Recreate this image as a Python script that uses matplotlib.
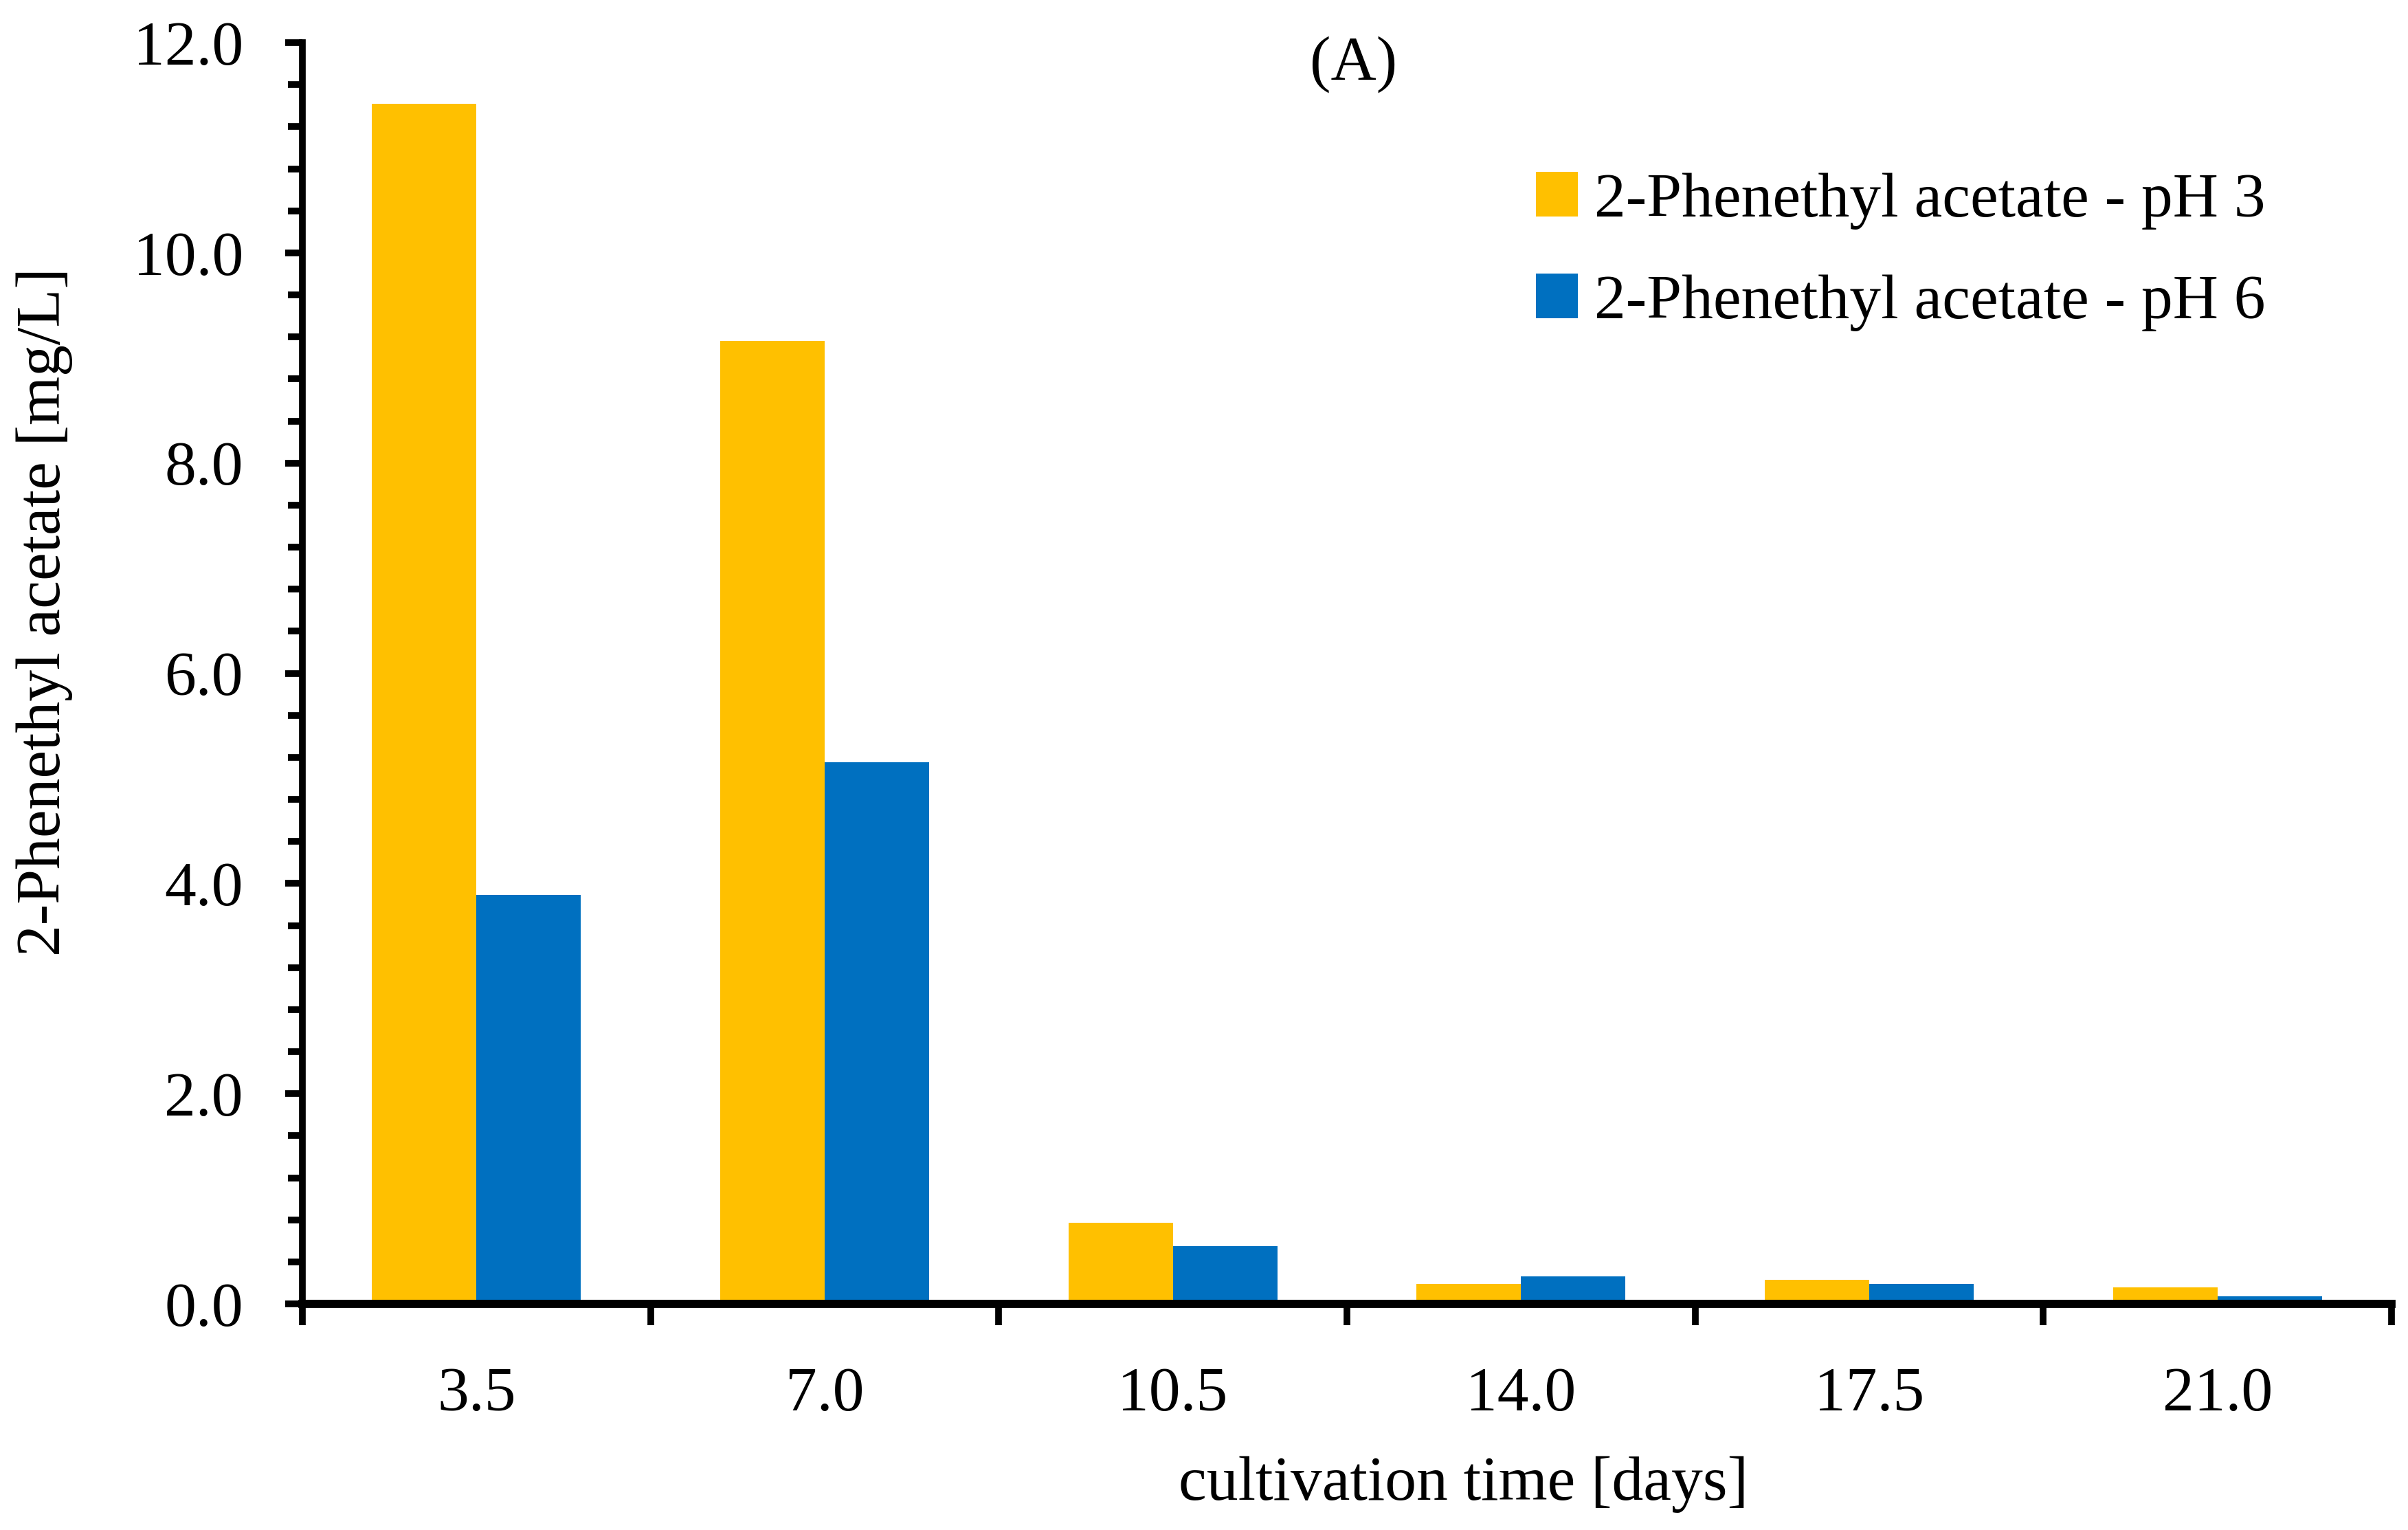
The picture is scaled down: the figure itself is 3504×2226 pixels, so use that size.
"""Bar chart: 2-phenethyl acetate over cultivation time at pH 3 and pH 6."""

import matplotlib

matplotlib.use("Agg")
import matplotlib.pyplot as plt
import numpy as np
from matplotlib.ticker import FixedLocator, FormatStrFormatter, MultipleLocator

# data
days = ["3.5", "7.0", "10.5", "14.0", "17.5", "21.0"]
ph3 = [11.42, 9.16, 0.77, 0.19, 0.23, 0.16]
ph6 = [3.89, 5.15, 0.55, 0.26, 0.19, 0.07]
series_labels = ["2-Phenethyl acetate - pH 3", "2-Phenethyl acetate - pH 6"]
colors = ["#FFC000", "#0070C0"]

W, H = 3505, 2226
DPI = 100
FS = 66


def main():
    plt.rcParams["font.family"] = ["Liberation Serif", "DejaVu Serif"]
    fig = plt.figure(figsize=(W / DPI, H / DPI), dpi=DPI)
    fig.patch.set_facecolor("white")

    # axes box in pixel coords of the reference
    x0, x1, y_top, y_base = 440, 3480, 62, 1897
    ax = fig.add_axes([x0 / W, 1 - y_base / H, (x1 - x0) / W, (y_base - y_top) / H])

    x = np.arange(len(days))
    bw = 0.3
    b1 = ax.bar(x - bw / 2, ph3, bw, color=colors[0], label=series_labels[0], zorder=2)
    b2 = ax.bar(x + bw / 2, ph6, bw, color=colors[1], label=series_labels[1], zorder=2)

    ax.set_xlim(-0.5, len(days) - 0.5)
    ax.set_ylim(0, 12)

    # y axis: major every 2, minor every 0.4
    ax.yaxis.set_major_locator(MultipleLocator(2))
    ax.yaxis.set_minor_locator(MultipleLocator(0.4))
    ax.yaxis.set_major_formatter(FormatStrFormatter("%.1f"))
    ax.tick_params(axis="y", which="major", direction="out", length=18, width=7,
                   pad=44, labelsize=FS)
    ax.tick_params(axis="y", which="minor", direction="out", length=15, width=7)

    # x axis: tick marks at category boundaries, labels at centres
    ax.xaxis.set_major_locator(FixedLocator(np.arange(len(days) + 1) - 0.5))
    ax.xaxis.set_minor_locator(FixedLocator(x))
    ax.set_xticklabels([], minor=False)
    ax.set_xticklabels(days, minor=True)
    ax.tick_params(axis="x", which="major", direction="out", length=22, width=7)
    ax.tick_params(axis="x", which="minor", length=0, pad=66, labelsize=FS)

    for side in ("top", "right"):
        ax.spines[side].set_visible(False)
    ax.spines["left"].set_linewidth(7)
    ax.spines["bottom"].set_linewidth(8.5)
    ax.spines["bottom"].set_zorder(3)

    ax.set_ylabel("2-Phenethyl acetate [mg/L]", fontsize=FS)
    ax.yaxis.label.set_va("center")
    ax.yaxis.set_label_coords((65 - x0) / (x1 - x0), (y_base - 890) / (y_base - y_top))

    ax.set_xlabel("cultivation time [days]", fontsize=FS)
    ax.xaxis.label.set_va("center")
    ax.xaxis.set_label_coords((2130 - x0) / (x1 - x0), -(2160 - y_base) / (y_base - y_top))

    ax.text(0.5033, 0.983, "(A)", transform=ax.transAxes, ha="center", va="center",
            fontsize=FS)

    ax.legend(handles=[b1, b2], loc="upper left", bbox_to_anchor=(2235 / W, 1 - 250 / H),
              bbox_transform=fig.transFigure, frameon=False, fontsize=FS,
              borderpad=0, borderaxespad=0, handlelength=0.665, handleheight=0.72,
              handletextpad=0.26, labelspacing=0.7)

    fig.savefig("out.png", dpi=DPI)


if __name__ == "__main__":
    main()
